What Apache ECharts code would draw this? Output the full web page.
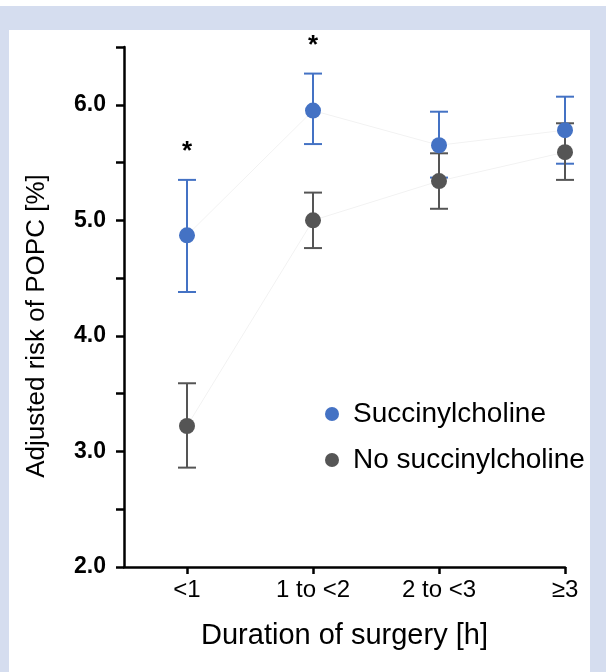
<!DOCTYPE html>
<html>
<head>
<meta charset="utf-8">
<script src="https://cdn.jsdelivr.net/npm/echarts@6/dist/echarts.min.js"></script>
<style>
  html, body { margin: 0; padding: 0; }
  body { width: 606px; height: 672px; background: #d5ddef; position: relative; overflow: hidden; }
  #topstrip { position: absolute; left: 0; top: 0; width: 606px; height: 6px; background: #ffffff; }
  #panel { position: absolute; left: 9px; top: 30px; width: 581px; height: 642px; background: #ffffff; }
  #chart { position: absolute; left: 0; top: 0; width: 606px; height: 672px; }
</style>
</head>
<body>
<div id="topstrip"></div>
<div id="panel"></div>
<div id="chart"></div>
<script>
const categories = ['<1', '1 to <2', '2 to <3', '≥3'];
const succMean = [4.87, 5.95, 5.65, 5.78];
const succLow = [4.38, 5.66, 5.37, 5.49];
const succHigh = [5.35, 6.27, 5.94, 6.07];
const noSuccMean = [3.22, 5.00, 5.34, 5.59];
const noSuccLow = [2.86, 4.76, 5.10, 5.35];
const noSuccHigh = [3.59, 5.24, 5.58, 5.84];
const starCategories = [0, 1];
const seriesNames = ['Succinylcholine', 'No succinylcholine'];

const BLUE = '#4472c4';
const GREY = '#555555';
const FONT = 'Liberation Sans, Arial, sans-serif';

const catIdx = categories.map((c, i) => i);
const pts = (arr) => catIdx.map(i => [i, arr[i]]);
const bars = (lo, hi) => catIdx.map(i => [i, lo[i], hi[i]]);

function errRender(color) {
  return function (params, api) {
    const x = api.value(0);
    const lo = api.coord([x, api.value(1)]);
    const hi = api.coord([x, api.value(2)]);
    const hw = 9;
    const st = { stroke: color, lineWidth: 2 };
    return {
      type: 'group',
      children: [
        { type: 'line', shape: { x1: lo[0], y1: lo[1], x2: hi[0], y2: hi[1] }, style: st },
        { type: 'line', shape: { x1: lo[0] - hw, y1: lo[1], x2: lo[0] + hw, y2: lo[1] }, style: st },
        { type: 'line', shape: { x1: hi[0] - hw, y1: hi[1], x2: hi[0] + hw, y2: hi[1] }, style: st }
      ]
    };
  };
}

const chart = echarts.init(document.getElementById('chart'), null, { renderer: 'canvas' });
chart.setOption({
  animation: false,
  backgroundColor: 'transparent',
  textStyle: { fontFamily: FONT },
  grid: { left: 124, right: 41, top: 47, bottom: 105, containLabel: false },
  legend: {
    data: seriesNames,
    orient: 'vertical',
    left: 320,
    top: 395,
    icon: 'circle',
    itemWidth: 32,
    itemHeight: 14,
    itemGap: 18,
    textStyle: { fontSize: 28, color: '#000', fontFamily: FONT }
  },
  xAxis: {
    type: 'value',
    min: -0.5,
    max: 3,
    name: 'Duration of surgery [h]',
    nameLocation: 'middle',
    nameGap: 54,
    nameTextStyle: { fontSize: 29, color: '#000', fontFamily: FONT },
    axisLine: { show: true, onZero: false, lineStyle: { color: '#000', width: 2.5 } },
    axisTick: { show: true, customValues: catIdx, length: 7, lineStyle: { color: '#000', width: 2.5 } },
    axisLabel: {
      customValues: catIdx,
      formatter: (v) => categories[Math.round(v)] || '',
      margin: 11,
      fontSize: 24,
      color: '#000',
      fontFamily: FONT
    },
    splitLine: { show: false }
  },
  yAxis: {
    type: 'value',
    min: 2,
    max: 6.5,
    interval: 0.5,
    name: 'Adjusted risk of POPC [%]',
    nameLocation: 'middle',
    nameGap: 74,
    nameTextStyle: { fontSize: 26, color: '#000', fontFamily: FONT, padding: [0, 38, 0, 0] },
    axisLine: { show: true, onZero: false, lineStyle: { color: '#000', width: 2.5 } },
    axisTick: { show: true, length: 8, lineStyle: { color: '#000', width: 2.5 } },
    axisLabel: {
      formatter: (v) => (Math.abs(v - Math.round(v)) < 1e-9 ? v.toFixed(1) : ''),
      margin: 18,
      fontSize: 23,
      fontWeight: 'bold',
      color: '#000',
      fontFamily: FONT
    },
    splitLine: { show: false }
  },
  series: [
    { type: 'line', name: 'succ-trend', data: pts(succMean), symbol: 'none', silent: true,
      lineStyle: { color: '#f2f2f2', width: 1 }, z: 1 },
    { type: 'line', name: 'nosucc-trend', data: pts(noSuccMean), symbol: 'none', silent: true,
      lineStyle: { color: '#f2f2f2', width: 1 }, z: 1 },
    { type: 'custom', name: 'succ-err', data: bars(succLow, succHigh), renderItem: errRender(BLUE), z: 2 },
    { type: 'scatter', name: seriesNames[0], data: pts(succMean), symbolSize: 16,
      itemStyle: { color: BLUE, opacity: 1 }, z: 2 },
    { type: 'custom', name: 'nosucc-err', data: bars(noSuccLow, noSuccHigh), renderItem: errRender(GREY), z: 2 },
    { type: 'scatter', name: seriesNames[1], data: pts(noSuccMean), symbolSize: 16,
      itemStyle: { color: GREY, opacity: 1 }, z: 2 },
    { type: 'custom', name: 'stars', data: starCategories.map(i => [i, succHigh[i]]), z: 3,
      renderItem: function (params, api) {
        const p = api.coord([api.value(0), api.value(1)]);
        return {
          type: 'text',
          style: { text: '*', x: p[0], y: p[1] - 28, fill: '#000', font: 'bold 26px ' + FONT,
                   align: 'center', verticalAlign: 'middle' }
        };
      } }
  ]
});
</script>
</body>
</html>
